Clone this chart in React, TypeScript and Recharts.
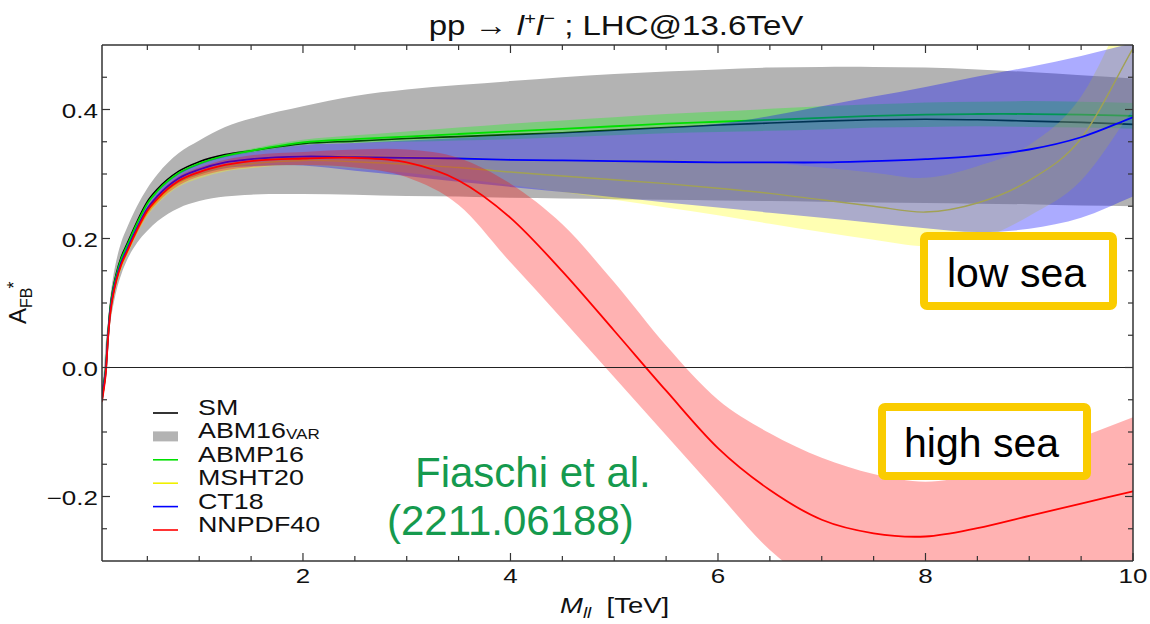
import React from 'react';
import { ComposedChart, Area, Line, XAxis, YAxis, ReferenceLine } from 'recharts';

// invariant mass grid (TeV)
const MLL = [0.063, 0.08, 0.1, 0.12, 0.14, 0.17, 0.2, 0.25, 0.3, 0.4, 0.5, 0.6, 0.8, 1.0, 1.25, 1.5,
  2, 2.5, 3, 3.5, 4, 4.5, 5, 5.5, 6, 6.5, 7, 7.5, 8, 8.5, 9, 9.5, 10];

const SM = [-0.045, -0.025, 0.0, 0.05, 0.09, 0.123, 0.145, 0.172, 0.19, 0.226, 0.257, 0.277, 0.304, 0.319, 0.33, 0.336,
  0.347, 0.351, 0.355, 0.358, 0.361, 0.364, 0.368, 0.372, 0.376, 0.379, 0.382, 0.384, 0.385, 0.384, 0.382, 0.38, 0.377];

const ABM16_LO = [-0.055, -0.04, -0.015, 0.03, 0.065, 0.095, 0.118, 0.145, 0.165, 0.193, 0.212, 0.227, 0.247, 0.258, 0.265, 0.268,
  0.269, 0.268, 0.266, 0.265, 0.263, 0.262, 0.261, 0.26, 0.259, 0.258, 0.257, 0.256, 0.255, 0.254, 0.253, 0.251, 0.25];
const ABM16_HI = [-0.03, -0.005, 0.04, 0.07, 0.105, 0.14, 0.165, 0.195, 0.215, 0.25, 0.278, 0.3, 0.332, 0.352, 0.373, 0.386,
  0.405, 0.421, 0.431, 0.438, 0.444, 0.45, 0.455, 0.459, 0.462, 0.465, 0.466, 0.466, 0.465, 0.462, 0.458, 0.453, 0.448];

const ABMP16 = [-0.047, -0.027, -0.002, 0.047, 0.087, 0.12, 0.142, 0.169, 0.187, 0.223, 0.254, 0.274, 0.301, 0.316, 0.328, 0.336,
  0.349, 0.354, 0.358, 0.362, 0.366, 0.37, 0.374, 0.378, 0.381, 0.384, 0.387, 0.39, 0.392, 0.393, 0.393, 0.392, 0.39];
const ABMP16_LO = [-0.049, -0.029, -0.004, 0.045, 0.085, 0.118, 0.14, 0.167, 0.185, 0.221, 0.252, 0.272, 0.299, 0.314, 0.326, 0.333,
  0.345, 0.348, 0.35, 0.352, 0.354, 0.357, 0.36, 0.363, 0.365, 0.367, 0.369, 0.372, 0.373, 0.374, 0.373, 0.372, 0.37];
const ABMP16_HI = [-0.045, -0.025, 0.0, 0.049, 0.089, 0.122, 0.144, 0.171, 0.189, 0.225, 0.256, 0.276, 0.303, 0.318, 0.33, 0.339,
  0.353, 0.36, 0.366, 0.372, 0.378, 0.383, 0.388, 0.393, 0.397, 0.401, 0.405, 0.408, 0.411, 0.412, 0.413, 0.412, 0.41];

const MSHT20 = [-0.052, -0.033, -0.009, 0.04, 0.078, 0.11, 0.132, 0.158, 0.176, 0.211, 0.24, 0.259, 0.286, 0.3, 0.311, 0.316,
  0.321, 0.319, 0.315, 0.31, 0.303, 0.297, 0.291, 0.285, 0.278, 0.27, 0.26, 0.25, 0.241, 0.255, 0.29, 0.355, 0.495];
const MSHT20_LO = [-0.055, -0.036, -0.013, 0.036, 0.074, 0.106, 0.128, 0.154, 0.172, 0.207, 0.235, 0.254, 0.28, 0.293, 0.304, 0.309,
  0.314, 0.308, 0.302, 0.293, 0.283, 0.272, 0.26, 0.248, 0.236, 0.223, 0.21, 0.198, 0.188, 0.198, 0.235, 0.29, 0.4];
const MSHT20_HI = [-0.049, -0.03, -0.005, 0.044, 0.082, 0.114, 0.136, 0.162, 0.18, 0.215, 0.245, 0.264, 0.292, 0.307, 0.318, 0.323,
  0.328, 0.33, 0.328, 0.327, 0.323, 0.322, 0.322, 0.322, 0.32, 0.317, 0.31, 0.302, 0.294, 0.312, 0.345, 0.42, 0.58];

const CT18 = [-0.05, -0.03, -0.005, 0.044, 0.083, 0.115, 0.137, 0.163, 0.181, 0.216, 0.246, 0.266, 0.293, 0.307, 0.318, 0.323,
  0.327, 0.326, 0.325, 0.324, 0.322, 0.321, 0.32, 0.319, 0.318, 0.318, 0.318, 0.32, 0.323, 0.328, 0.338, 0.357, 0.388];
const CT18_LO = [-0.053, -0.033, -0.009, 0.04, 0.079, 0.111, 0.133, 0.159, 0.177, 0.212, 0.241, 0.26, 0.286, 0.299, 0.309, 0.312,
  0.313, 0.305, 0.297, 0.288, 0.28, 0.272, 0.264, 0.256, 0.248, 0.24, 0.232, 0.224, 0.216, 0.21, 0.215, 0.232, 0.265];
const CT18_HI = [-0.047, -0.027, -0.001, 0.048, 0.087, 0.119, 0.141, 0.167, 0.185, 0.22, 0.251, 0.272, 0.3, 0.315, 0.327, 0.334,
  0.345, 0.348, 0.352, 0.356, 0.36, 0.364, 0.368, 0.372, 0.378, 0.39, 0.405, 0.42, 0.435, 0.451, 0.466, 0.483, 0.503];

const NNPDF40 = [-0.053, -0.034, -0.008, 0.042, 0.08, 0.112, 0.134, 0.16, 0.178, 0.213, 0.243, 0.262, 0.289, 0.303, 0.314, 0.32,
  0.324, 0.325, 0.318, 0.29, 0.232, 0.149, 0.057, -0.036, -0.125, -0.19, -0.236, -0.257, -0.262, -0.249, -0.23, -0.211, -0.192];
const NNPDF40_LO = [-0.057, -0.038, -0.012, 0.038, 0.076, 0.108, 0.13, 0.156, 0.174, 0.208, 0.237, 0.256, 0.282, 0.296, 0.306, 0.311,
  0.314, 0.31, 0.295, 0.252, 0.163, 0.075, -0.015, -0.105, -0.195, -0.283, -0.34, -0.36, -0.37, -0.36, -0.345, -0.33, -0.31];
const NNPDF40_HI = [-0.049, -0.03, -0.004, 0.046, 0.084, 0.116, 0.138, 0.164, 0.182, 0.218, 0.249, 0.268, 0.296, 0.31, 0.322, 0.329,
  0.334, 0.338, 0.338, 0.325, 0.285, 0.222, 0.132, 0.034, -0.05, -0.102, -0.14, -0.165, -0.177, -0.165, -0.14, -0.108, -0.077];

const X_TICKS = [0.5, 1, 1.5, 2, 2.5, 3, 3.5, 4, 4.5, 5, 5.5, 6, 6.5, 7, 7.5, 8, 8.5, 9, 9.5, 10];
const Y_TICKS = [-0.25, -0.2, -0.15, -0.1, -0.05, 0, 0.05, 0.1, 0.15, 0.2, 0.25, 0.3, 0.35, 0.4, 0.45];
const X_LABELED = [2, 4, 6, 8, 10];
const Y_LABELED = [-0.2, 0, 0.2, 0.4];

const LEGEND = [
  { name: 'SM', sub: '', color: '#000000', swatch: 'line' },
  { name: 'ABM16', sub: 'VAR', color: '#b3b3b3', swatch: 'box' },
  { name: 'ABMP16', sub: '', color: '#00e000', swatch: 'line' },
  { name: 'MSHT20', sub: '', color: '#f0f000', swatch: 'line' },
  { name: 'CT18', sub: '', color: '#0000ff', swatch: 'line' },
  { name: 'NNPDF40', sub: '', color: '#ff0000', swatch: 'line' },
];

const data = MLL.map((m, i) => ({
  m,
  sm: SM[i],
  abm16: [ABM16_LO[i], ABM16_HI[i]],
  abmp16: ABMP16[i],
  abmp16Band: [ABMP16_LO[i], ABMP16_HI[i]],
  msht20: MSHT20[i],
  msht20Band: [MSHT20_LO[i], MSHT20_HI[i]],
  ct18: CT18[i],
  ct18Band: [CT18_LO[i], CT18_HI[i]],
  nnpdf40: NNPDF40[i],
  nnpdf40Band: [NNPDF40_LO[i], NNPDF40_HI[i]],
}));

const W = 1150;
const H = 624;
const FONT = '"Liberation Sans", Arial, Helvetica, sans-serif';
const FRAME = '#333';
const X_DOMAIN: [number, number] = [0.063, 10];
const Y_DOMAIN: [number, number] = [-0.3, 0.5];

// Cubic Hermite curve in x with unclamped three-point tangents, so minima stay
// round. Spacing is signed, which also covers the reversed lower edge of a range area.
function smoothX(context: any) {
  let pts: number[][] = [];
  let line = NaN;
  return {
    areaStart() { line = 0; },
    areaEnd() { line = NaN; },
    lineStart() { pts = []; },
    point(x: number, y: number) { pts.push([+x, +y]); },
    lineEnd() {
      const n = pts.length;
      if (n > 0) {
        if (line) context.lineTo(pts[0][0], pts[0][1]);
        else context.moveTo(pts[0][0], pts[0][1]);
      }
      if (n === 2) context.lineTo(pts[1][0], pts[1][1]);
      if (n > 2) {
        const h: number[] = [];
        const d: number[] = [];
        for (let i = 0; i < n - 1; i++) {
          h.push(pts[i + 1][0] - pts[i][0]);
          d.push(h[i] === 0 ? 0 : (pts[i + 1][1] - pts[i][1]) / h[i]);
        }
        const m: number[] = [d[0]];
        for (let i = 1; i < n - 1; i++) {
          const s = h[i - 1] + h[i];
          m.push(s === 0 ? 0 : (d[i - 1] * h[i] + d[i] * h[i - 1]) / s);
        }
        m.push(d[n - 2]);
        for (let i = 0; i < n - 1; i++) {
          const [x0, y0] = pts[i];
          const [x1, y1] = pts[i + 1];
          const t = h[i] / 3;
          context.bezierCurveTo(x0 + t, y0 + m[i] * t, x1 - t, y1 - m[i + 1] * t, x1, y1);
        }
      }
      if (line || (line !== 0 && n === 1)) context.closePath();
      line = 1 - line;
    },
  };
}

const near = (a: number, list: number[]) => list.some((b) => Math.abs(a - b) < 1e-6);
const fmtY = (v: number) => (Math.abs(v) < 1e-9 ? '0.0' : v.toFixed(1).replace('-', '\u2212'));

// Mathematica-style frame ticks: pointing into the plot, labels only on the major ones
const BottomTick = ({ x, y, payload }: any) => {
  const major = near(payload.value, X_LABELED);
  return (
    <g>
      <line x1={x} y1={y} x2={x} y2={y - (major ? 8 : 5)} stroke={FRAME} strokeWidth={1.2} />
      {major && (
        <g transform={`translate(${x},${y + 22}) scale(1.3,1)`}>
          <text textAnchor="middle" fontSize={20} fill="#111" fontFamily={FONT}>{payload.value}</text>
        </g>
      )}
    </g>
  );
};

const TopTick = ({ x, y, payload }: any) => {
  const major = near(payload.value, X_LABELED);
  return <line x1={x} y1={y} x2={x} y2={y + (major ? 8 : 5)} stroke={FRAME} strokeWidth={1.2} />;
};

const LeftTick = ({ x, y, payload }: any) => {
  const major = near(payload.value, Y_LABELED);
  return (
    <g>
      <line x1={x} y1={y} x2={x + (major ? 8 : 5)} y2={y} stroke={FRAME} strokeWidth={1.2} />
      {major && (
        <g transform={`translate(${x - 4},${y + 8}) scale(1.3,1)`}>
          <text textAnchor="end" fontSize={20} fill="#111" fontFamily={FONT}>{fmtY(payload.value)}</text>
        </g>
      )}
    </g>
  );
};

const RightTick = ({ x, y, payload }: any) => {
  const major = near(payload.value, Y_LABELED);
  return <line x1={x} y1={y} x2={x - (major ? 8 : 5)} y2={y} stroke={FRAME} strokeWidth={1.2} />;
};

const axisLine = { stroke: FRAME, strokeWidth: 1.5 };

export default function App() {
  return (
    <div style={{ position: 'absolute', left: 0, top: 0, width: W, height: H, background: '#fff' }}>
      <ComposedChart width={W} height={H} data={data} margin={{ top: 44, right: 16, bottom: 62, left: 101 }}>
        <XAxis dataKey="m" type="number" domain={X_DOMAIN} ticks={X_TICKS} interval={0} height={1}
          tickSize={0} tickMargin={0} tickLine={false} tick={BottomTick} axisLine={axisLine} allowDataOverflow />
        <XAxis xAxisId="top" orientation="top" dataKey="m" type="number" domain={X_DOMAIN} ticks={X_TICKS} interval={0}
          height={1} tickSize={0} tickMargin={0} tickLine={false} tick={TopTick} axisLine={axisLine} allowDataOverflow />
        <YAxis type="number" domain={Y_DOMAIN} ticks={Y_TICKS} interval={0} width={1}
          tickSize={0} tickMargin={0} tickLine={false} tick={LeftTick} axisLine={axisLine} allowDataOverflow />
        <YAxis yAxisId="right" orientation="right" type="number" domain={Y_DOMAIN} ticks={Y_TICKS} interval={0} width={1}
          tickSize={0} tickMargin={0} tickLine={false} tick={RightTick} axisLine={axisLine} allowDataOverflow />

        <Area type={smoothX} dataKey="abm16" stroke="none" fill="#b3b3b3" fillOpacity={1}
          dot={false} activeDot={false} isAnimationActive={false} zIndex={100} />
        <Line type={smoothX} dataKey="sm" stroke="#000" strokeWidth={1.6}
          dot={false} activeDot={false} isAnimationActive={false} zIndex={101} />

        <Area type={smoothX} dataKey="abmp16Band" stroke="none" fill="#00ff00" fillOpacity={0.3}
          dot={false} activeDot={false} isAnimationActive={false} zIndex={102} />
        <Line type={smoothX} dataKey="abmp16" stroke="#00e000" strokeWidth={1.8}
          dot={false} activeDot={false} isAnimationActive={false} zIndex={103} />

        <Area type={smoothX} dataKey="msht20Band" stroke="none" fill="#ffff00" fillOpacity={0.3}
          dot={false} activeDot={false} isAnimationActive={false} zIndex={104} />
        <Line type={smoothX} dataKey="msht20" stroke="#f0f000" strokeWidth={1.4}
          dot={false} activeDot={false} isAnimationActive={false} zIndex={105} />

        <Area type={smoothX} dataKey="ct18Band" stroke="none" fill="#0000ff" fillOpacity={0.33}
          dot={false} activeDot={false} isAnimationActive={false} zIndex={106} />
        <Line type={smoothX} dataKey="ct18" stroke="#0000ff" strokeWidth={1.8}
          dot={false} activeDot={false} isAnimationActive={false} zIndex={107} />

        <Area type={smoothX} dataKey="nnpdf40Band" stroke="none" fill="#ff0000" fillOpacity={0.3}
          dot={false} activeDot={false} isAnimationActive={false} zIndex={108} />
        <Line type={smoothX} dataKey="nnpdf40" stroke="#ff0000" strokeWidth={1.8}
          dot={false} activeDot={false} isAnimationActive={false} zIndex={109} />

        <ReferenceLine y={0} stroke="#222" strokeWidth={1.2} zIndex={110} />
      </ComposedChart>

      <svg width={W} height={H} style={{ position: 'absolute', left: 0, top: 0, pointerEvents: 'none' }} fontFamily={FONT}>
        {/* title */}
        <g transform="translate(616,35) scale(1.18,1)">
          <text textAnchor="middle" fontSize={28} fill="#111">
            pp → <tspan fontStyle="italic">l</tspan><tspan fontSize={17} dy={-11}>+</tspan><tspan fontStyle="italic" dy={11}>l</tspan><tspan fontSize={17} dy={-11}>{'\u2212'}</tspan><tspan dy={11}>{' ; LHC@13.6TeV'}</tspan>
          </text>
        </g>

        {/* axis titles */}
        <g transform="translate(26,324) rotate(-90)">
          <text fontSize={24} fill="#111">A<tspan fontSize={16} dy={6}>FB</tspan><tspan fontSize={18} dx={-1} dy={-12}>*</tspan></text>
        </g>
        <g transform="translate(560,613) scale(1.25,1)">
          <text fontSize={22} fill="#111"><tspan fontStyle="italic">M</tspan><tspan fontStyle="italic" fontSize={15} dy={5}>ll</tspan><tspan dy={-5}>{'\u00a0\u00a0[TeV]'}</tspan></text>
        </g>

        {/* legend */}
        {LEGEND.map((item, i) => {
          const y = 413 + i * 23.4;
          return (
            <g key={item.name}>
              {item.swatch === 'box'
                ? <rect x={153} y={y - 5} width={25} height={10} fill={item.color} />
                : <line x1={153} x2={178} y1={y} y2={y} stroke={item.color} strokeWidth={1.6} />}
              <g transform={`translate(198,${y + 2}) scale(1.22,1)`}>
                <text fontSize={22} fill="#111">{item.name}{item.sub && <tspan fontSize={14} dy={1}>{item.sub}</tspan>}</text>
              </g>
            </g>
          );
        })}

        {/* annotations */}
        <rect x={924} y={236} width={189} height={70} rx={3} fill="#fff" stroke="#facc00" strokeWidth={8} />
        <text x={947} y={287} fontSize={41} fill="#000">low sea</text>
        <rect x={882} y={407} width={205} height={69} rx={3} fill="#fff" stroke="#facc00" strokeWidth={8} />
        <text x={904} y={457} fontSize={41} fill="#000">high sea</text>
        <text x={415} y={487} fontSize={42} fill="#159a4e">Fiaschi et al.</text>
        <text x={387} y={535} fontSize={42} fill="#159a4e">(2211.06188)</text>
      </svg>
    </div>
  );
}
